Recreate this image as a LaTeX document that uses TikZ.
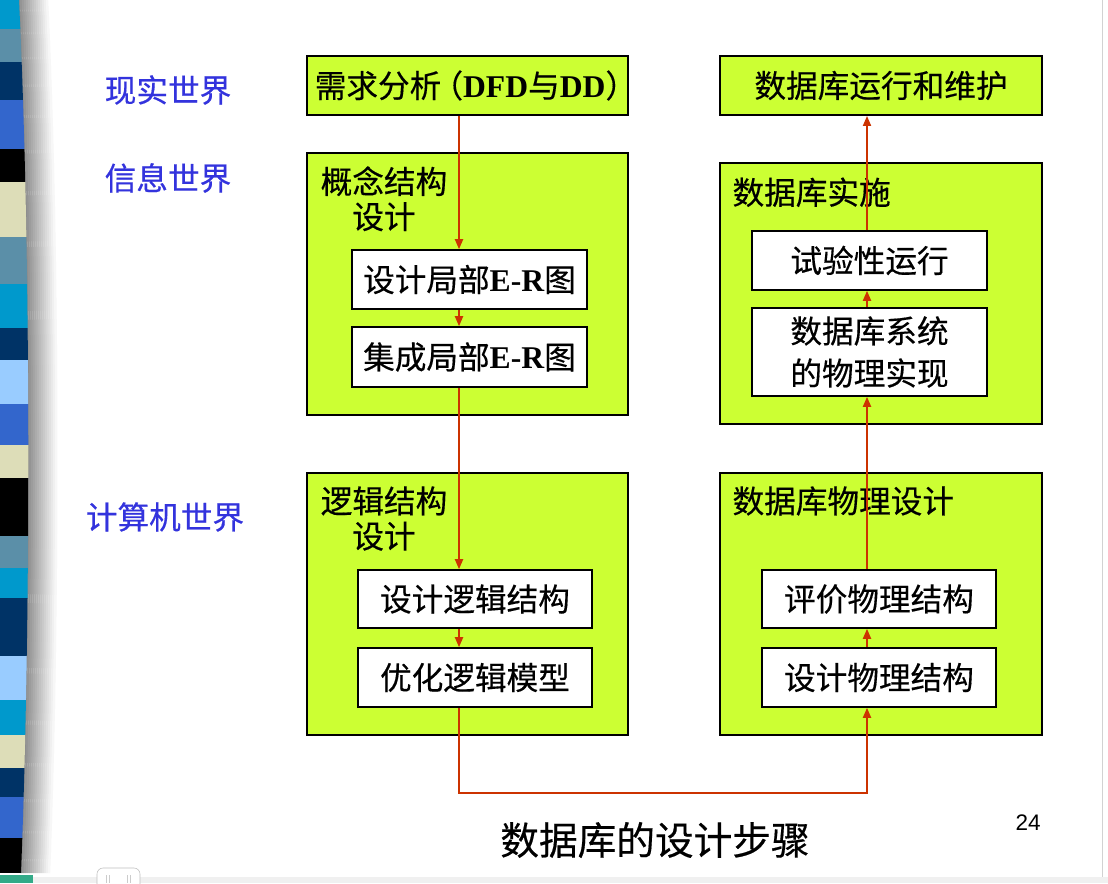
\documentclass[tikz,border=0pt]{standalone}
\usepackage{fontspec}
\newfontfamily\cjk{Noto Sans CJK SC}[FakeBold=0.4]
\newfontfamily\tnr{Liberation Serif}
\newfontfamily\arial{Liberation Sans}
\usepackage{tikz}
\usetikzlibrary{arrows.meta,positioning}

\definecolor{lime}{RGB}{204,255,51}
\definecolor{flowred}{RGB}{204,51,0}
\definecolor{worldblue}{RGB}{51,51,221}
\definecolor{sCyan}{RGB}{0,153,204}
\definecolor{sSteel}{RGB}{91,143,168}
\definecolor{sNavy}{RGB}{0,51,102}
\definecolor{sRoyal}{RGB}{51,102,204}
\definecolor{sBeige}{RGB}{221,221,184}
\definecolor{sLight}{RGB}{153,204,255}
\definecolor{sTeal}{RGB}{51,170,136}

\begin{document}
\begin{tikzpicture}[x=0.025cm,y=-0.025cm,
  txt/.style={font=\cjk\fontsize{22.5}{25}\selectfont},
  bigbox/.style={draw,fill=lime,line width=1.3pt,inner sep=0pt,txt},
  stepbox/.style={draw,fill=white,line width=1.1pt,inner sep=0pt,align=center,txt},
  boxtitle/.style={inner sep=0pt,align=center,txt},
  world/.style={txt,text=worldblue},
  flow/.style={draw=flowred,line width=1.3pt,-{Triangle[length=0.25cm,width=0.2cm]}}]
\useasboundingbox (0,0) rectangle (1108,883);
\fill[white] (0,0) rectangle (1108,883);

% slide border
\foreach \i [evaluate=\i as \k using 45-3*\i] in {0,...,14}
  \draw[black!\k,line width=0.06cm,xshift=\i*0.05cm]
    (19,0) .. controls (31,250) and (31,620) .. (21,873);
\begin{scope}
\clip (0,0) -- (19,0) .. controls (31,250) and (31,620) .. (21,873) -- (0,873) -- cycle;
\foreach \ya/\yb/\c in {0/29/sCyan,29/62/sSteel,62/100/sNavy,100/149/sRoyal,
  149/182/black,182/237/sBeige,237/284/sSteel,284/328/sCyan,328/360/sNavy,
  360/404/sLight,404/445/sRoyal,445/478/sBeige,478/536/black,536/568/sSteel,
  568/598/sCyan,598/656/sNavy,656/700/sLight,700/735/sCyan,735/768/sBeige,
  768/797/sNavy,797/838/sRoyal,838/873/black}
  \fill[\c] (0,\ya) rectangle (40,\yb);
\end{scope}
\draw[gray!35] (1102,0) -- (1102,877);
\fill[gray!12] (0,877) rectangle (1108,883);
\fill[sTeal] (0,875) rectangle (33,883);
\draw[gray!50,fill=white,rounded corners=0.15cm] (97,868) rectangle (140,895);
\draw[gray!40] (106,875) -- (106,883) (109,875) -- (109,883)
  (127,875) -- (127,883) (130,875) -- (130,883);

% worlds
\node[world] (w1) at (168,90) {现实世界};
\node[world] (w2) at (168,178) {信息世界};
\node[world] (w3) at (165,517) {计算机世界};

% left column
\node[bigbox,minimum width=8.025cm,minimum height=1.475cm] (req) at (467.5,85.5)
  {\kern3pt需求分析\kern-7pt（{\tnr\bfseries DFD}与{\tnr\bfseries DD}）\kern-9pt};
\node[bigbox,minimum width=8.025cm,minimum height=6.55cm] (c1) at (467.5,284) {};
\node[boxtitle,below right=0.35cm and 0.36cm of c1.north west] (t1) {概念结构\\设计};
\node[stepbox,minimum width=5.875cm,minimum height=1.475cm] (er1) at (469.5,279.5)
  {设计局部{\tnr\bfseries E-R}图};
\node[stepbox,minimum width=5.875cm,minimum height=1.5cm] (er2) at (469.5,357)
  {集成局部{\tnr\bfseries E-R}图};
\node[bigbox,minimum width=8.025cm,minimum height=6.55cm] (c2) at (467.5,604) {};
\node[boxtitle,below right=0.35cm and 0.36cm of c2.north west] (t2) {逻辑结构\\设计};
\node[stepbox,minimum width=5.85cm,minimum height=1.45cm] (lg1) at (475,599) {设计逻辑结构};
\node[stepbox,minimum width=5.85cm,minimum height=1.475cm] (lg2) at (475,677.5) {优化逻辑模型};

% right column
\node[bigbox,minimum width=8.05cm,minimum height=1.475cm] (maint) at (881,85.5) {数据库运行和维护};
\node[bigbox,minimum width=8.05cm,minimum height=6.525cm] (c3) at (881,293.5) {};
\node[boxtitle,below right=0.38cm and 0.33cm of c3.north west] (t3) {数据库实施};
\node[stepbox,minimum width=5.875cm,minimum height=1.475cm] (trial) at (869.5,260.5) {试验性运行};
\node[stepbox,minimum width=5.875cm,minimum height=2.2cm] (real) at (869.5,352)
  {数据库系统\\[5pt]的物理实现};
\node[bigbox,minimum width=8.05cm,minimum height=6.55cm] (c4) at (881,604) {};
\node[boxtitle,below right=0.35cm and 0.33cm of c4.north west] (t4) {数据库物理设计};
\node[stepbox,minimum width=5.85cm,minimum height=1.45cm] (ph1) at (879,599) {评价物理结构};
\node[stepbox,minimum width=5.85cm,minimum height=1.475cm] (ph2) at (879,677.5) {设计物理结构};

% flow
\coordinate (lx) at (459,0);
\coordinate (rx) at (867,0);
\coordinate (bend) at (0,793);
\draw[flow] (req.south -| lx) -- (er1.north -| lx);
\draw[flow] (er1.south -| lx) -- (er2.north -| lx);
\draw[flow] (er2.south -| lx) -- (lg1.north -| lx);
\draw[flow] (lg1.south -| lx) -- (lg2.north -| lx);
\draw[flow] (lg2.south -| lx) -- (bend -| lx) -- (bend -| rx) -- (ph2.south -| rx);
\draw[flow] (ph2.north -| rx) -- (ph1.south -| rx);
\draw[flow] (ph1.north -| rx) -- (real.south -| rx);
\draw[flow] (real.north -| rx) -- (trial.south -| rx);
\draw[flow] (trial.north -| rx) -- (maint.south -| rx);

\node[font=\cjk\fontsize{27.5}{30}\selectfont] (cap) at (655,840) {数据库的设计步骤};
\node[font=\arial\fontsize{16}{18}\selectfont] (pg) at (1028,823) {24};
\end{tikzpicture}
\end{document}
